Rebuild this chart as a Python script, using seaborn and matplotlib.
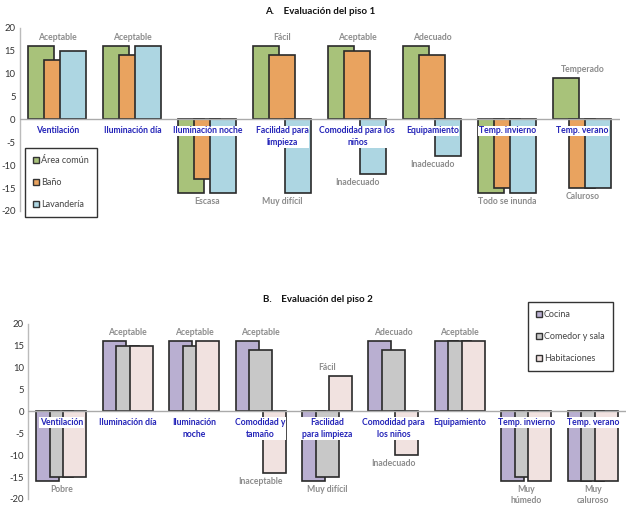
import matplotlib
matplotlib.use("Agg")
import matplotlib.pyplot as plt
from matplotlib.patches import Patch
import seaborn as sns
import pandas as pd

# ---------------- data: piso 1 ----------------
cats1 = ["Ventilación", "Iluminación día", "Iluminación noche", "Facilidad para\nlimpieza",
         "Comodidad para los\nniños", "Equipamiento", "Temp. invierno", "Temp. verano"]
series1 = ["Área común", "Baño", "Lavandería"]
area_comun = [16, 16, -16, 16, 16, 16, -16, 9]
bano = [13, 14, -13, 14, 15, 14, -15, -15]
lavanderia = [15, 16, -16, -16, -12, -8, -16, -15]
top_labels1 = ["Aceptable", "Aceptable", "", "Fácil", "Aceptable", "Adecuado", "", "Temperado"]
bottom_labels1 = ["", "", "Escasa", "Muy difícil", "Inadecuado", "Inadecuado", "Todo se inunda", "Caluroso"]

# ---------------- data: piso 2 ----------------
cats2 = ["Ventilación", "Iluminación día", "Iluminación\nnoche", "Comodidad y\ntamaño",
         "Facilidad\npara limpieza", "Comodidad para\nlos niños", "Equipamiento",
         "Temp. invierno", "Temp. verano"]
series2 = ["Cocina", "Comedor y sala", "Habitaciones"]
cocina = [-16, 16, 16, 16, -16, 16, 16, -16, -16]
comedor = [-15, 15, 15, 14, -15, 14, 16, -15, -16]
habitaciones = [-15, 15, 16, -14, 8, -10, 16, -16, -16]
top_labels2 = ["", "Aceptable", "Aceptable", "Aceptable", "Fácil", "Adecuado", "Aceptable", "", ""]
bottom_labels2 = ["Pobre", "", "", "Inaceptable", "Muy difícil", "Inadecuado", "", "Muy\nhúmedo", "Muy\ncaluroso"]
yticks = [-20, -15, -10, -5, 0, 5, 10, 15, 20]

colors1 = ["#A8C27A", "#E9A35F", "#ADD6E2"]
colors2 = ["#B9AFD1", "#C8C8C8", "#F1E2E0"]

sns.set_theme(style="white")
plt.rcParams["font.family"] = ["Lato", "DejaVu Sans"]

fig = plt.figure(figsize=(6.4, 5.07), dpi=100)
ax1 = fig.add_axes([0.031, 0.584, 0.9375, 0.361])
ax2 = fig.add_axes([0.044, 0.016, 0.934, 0.345])


def long_df(cats, names, vals):
    rows = []
    for name, v in zip(names, vals):
        for c, x in zip(cats, v):
            rows.append({"cat": c, "serie": name, "valor": x})
    return pd.DataFrame(rows)


def draw(ax, cats, names, vals, colors, width, gap, tops, bottoms):
    df = long_df(cats, names, vals)
    sns.barplot(data=df, x="cat", y="valor", hue="serie", order=cats, hue_order=names,
                palette=colors, width=width, gap=gap, dodge=True, ax=ax,
                edgecolor="#2a2a2a", linewidth=1.2, legend=False, errorbar=None, saturation=1)
    ax.set_ylim(-20, 20)
    ax.set_xlim(-0.5, len(cats) - 0.5)
    ax.set_yticks(yticks)
    ax.set_yticklabels([str(t) for t in yticks], fontsize=6.8, color="#333333")
    ax.set_xticks([])
    ax.set_xlabel("")
    ax.set_ylabel("")
    for s in ["top", "right", "bottom"]:
        ax.spines[s].set_visible(False)
    ax.spines["left"].set_color("#BBBBBB")
    ax.spines["left"].set_linewidth(1.0)
    ax.tick_params(axis="y", length=0, pad=3)
    ax.axhline(0, color="#AAAAAA", lw=1.0, zorder=5)
    for i, c in enumerate(cats):
        ax.text(i, -1.5, c, ha="center", va="top", fontsize=6.2, fontweight="bold",
                color="#2323B8", zorder=10, linespacing=1.45,
                bbox=dict(facecolor="white", edgecolor="none", pad=0.5))
        gvals = [v[i] for v in vals]
        if tops[i]:
            ax.text(i, max(gvals) + 1.0, tops[i], ha="center", va="bottom", fontsize=6.2,
                    color="#8C8C8C", fontweight="bold")
        if bottoms[i]:
            ax.text(i, min(gvals) - 0.9, bottoms[i], ha="center", va="top", fontsize=6.2,
                    color="#8C8C8C", fontweight="bold", linespacing=1.3)


draw(ax1, cats1, series1, [area_comun, bano, lavanderia], colors1, 0.64, -0.62,
     top_labels1, bottom_labels1)
draw(ax2, cats2, series2, [cocina, comedor, habitaciones], colors2, 0.61, -0.70,
     top_labels2, bottom_labels2)

fig.text(0.5, 0.987, "A.    Evaluación del piso 1", ha="center", va="top", fontsize=7,
         fontweight="bold", color="#111111")
fig.text(0.497, 0.418, "B.    Evaluación del piso 2", ha="center", va="top", fontsize=7,
         fontweight="bold", color="#111111")


def legend(ax, names, colors, loc, anchor):
    handles = [Patch(facecolor=c, edgecolor="#333333", linewidth=1.0, label=n)
               for n, c in zip(names, colors)]
    leg = ax.legend(handles=handles, loc=loc, bbox_to_anchor=anchor, fontsize=6.5,
                    handlelength=0.7, handleheight=0.7, handletextpad=0.2,
                    labelspacing=1.45, borderpad=0.9, fancybox=False, framealpha=1,
                    borderaxespad=0)
    leg.get_frame().set_edgecolor("#333333")
    leg.get_frame().set_linewidth(1.0)
    for t in leg.get_texts():
        t.set_color("#444444")
    leg.set_zorder(20)


legend(ax1, series1, colors1, "lower left", (0.008, -0.035))
legend(ax2, series2, colors2, "upper right", (0.978, 1.126))

fig.savefig("out.png", dpi=100)
